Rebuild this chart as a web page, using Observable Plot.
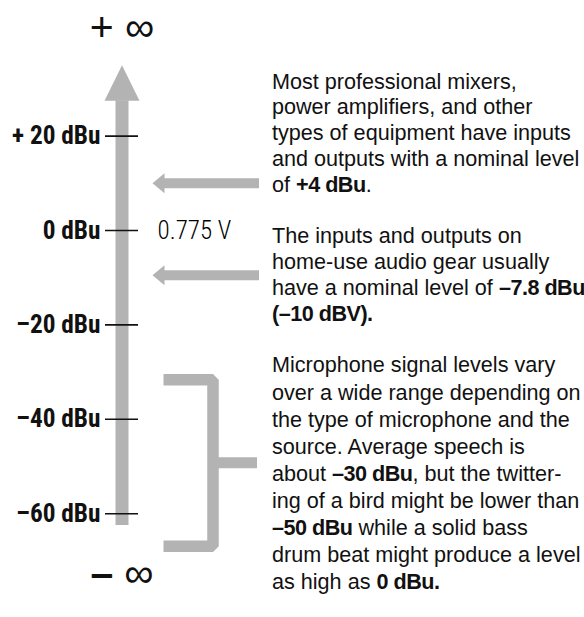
<!DOCTYPE html>
<html><head><meta charset="utf-8">
<script src="https://cdn.jsdelivr.net/npm/d3@7"></script>
<script src="https://cdn.jsdelivr.net/npm/@observablehq/plot@0.6"></script>
<style>
html,body{margin:0;padding:0;background:#fff;}
</style></head><body><div id="chart"></div>
<script>
// ---- data (dBu levels as drawn on the schematic scale) ----
const tickValues = [20, 0, -20, -40, -60];
const tickLabels = ["+ 20 dBu", "0 dBu", "–20 dBu", "–40 dBu", "–60 dBu"];
const referenceLevel = 0;
const referenceLabel = "0.775 V";
const axisExtent = [-62.5, 35];          // shaft bottom, arrow tip
const axisHeadBase = 27.5;
const arrowLevels = [10, -9.5];          // pro gear / home gear pointers
const micBracket = [-31.6, -66.9];       // microphone range bracket
const micBracketMid = -49.2;
const infinityLevels = [43, -72.7];
const infinityLabels = ["+ ∞", "**–** ∞"];
const noteLevels = [20.9, -9.1, -51.2];
const notes = [
  "Most professional mixers,\npower amplifiers, and other\ntypes of equipment have inputs\nand outputs with a nominal level\nof **+4 dBu**.",
  "The inputs and outputs on\nhome-use audio gear usually\nhave a nominal level of **–7.8 dBu**\n**(–10 dBV).**",
  "Microphone signal levels vary\nover a wide range depending on\nthe type of microphone and the\nsource. Average speech is\nabout **–30 dBu**, but the twitter-\ning of a bird might be lower than\n**–50 dBu** while a solid bass\ndrum beat might produce a level\nas high as **0 dBu.**"
];

// ---- layout ----
const W = 584, H = 617;
const pxPerDb = 4.72;
const gray = "#b3b3b3";
const ink = "#111";
const X = {shaft: 121.5, headL: 104, headR: 139, tickL: 105, tickR: 138, labelR: 100,
           ref: 157, arrowTip: 152, arrowBase: 164, arrowEnd: 259, notes: 271.5,
           brL: 163, brV: 212.5, brStub: 257};
const cond = '"Roboto Condensed", "DejaVu Sans Condensed", sans-serif';
const sans = '"Liberation Sans", Arial, Helvetica, sans-serif';

const headHalf = 10 / pxPerDb;
const arrowHeads = arrowLevels.flatMap(l => [
  {x: X.arrowTip, y: l, k: l}, {x: X.arrowBase, y: l + headHalf, k: l}, {x: X.arrowBase, y: l - headHalf, k: l}
]);
const mainHead = [
  {x: X.headL, y: axisHeadBase}, {x: X.headR, y: axisHeadBase}, {x: X.shaft, y: axisExtent[1]}
];
const bracket = [
  {x: X.brL, y: micBracket[0]}, {x: X.brV, y: micBracket[0]},
  {x: X.brV, y: micBracket[1]}, {x: X.brL, y: micBracket[1]}
];
const ticks = tickValues.map((v, i) => ({v, label: tickLabels[i]}));

const noteSize = 21.6;
const lineHeights = [25.75 / noteSize, 26 / noteSize, 27.1 / noteSize];

const chart = Plot.plot({
  width: W, height: H, margin: 0,
  x: {domain: [0, W], axis: null},
  y: {domain: [-(H - 230) / pxPerDb, 230 / pxPerDb], axis: null},
  style: {background: "#fff"},
  marks: [
    // main axis shaft + head
    Plot.ruleX([X.shaft], {x: d => d, y1: axisExtent[0], y2: axisHeadBase, stroke: gray, strokeWidth: 13}),
    Plot.line(mainHead, {x: "x", y: "y", fill: gray, stroke: "none"}),
    // ticks
    Plot.ruleY(ticks, {y: "v", x1: X.tickL, x2: X.tickR, stroke: ink, strokeWidth: 1.6}),
    Plot.text(ticks, {y: "v", x: X.labelR, text: "label", textAnchor: "end", fontFamily: cond,
      fontWeight: "bold", fontSize: 25.3, fill: ink}),
    Plot.text([referenceLabel], {y: referenceLevel, x: X.ref, text: d => d, textAnchor: "start",
      fontFamily: cond, fontWeight: 300, fontSize: 25, fill: "#000"}),
    // infinity labels
    Plot.text(infinityLabels, {y: (d, i) => infinityLevels[i], x: X.shaft, text: d => d,
      fontFamily: sans, fontSize: 41, fill: ink}),
    // pointer arrows
    Plot.ruleY(arrowLevels, {y: d => d, x1: X.arrowBase - 1, x2: X.arrowEnd, stroke: gray, strokeWidth: 10}),
    Plot.line(arrowHeads, {x: "x", y: "y", z: "k", fill: gray, stroke: "none"}),
    // microphone bracket
    Plot.line(bracket, {x: "x", y: "y", stroke: gray, strokeWidth: 11.5, strokeLinejoin: "miter", strokeLinecap: "butt"}),
    Plot.ruleY([micBracketMid], {y: d => d, x1: X.brV, x2: X.brStub, stroke: gray, strokeWidth: 11}),
    // notes
    ...notes.map((n, i) => Plot.text([n], {y: noteLevels[i], x: X.notes, text: d => d,
      textAnchor: "start", lineAnchor: "middle", lineHeight: lineHeights[i],
      fontFamily: sans, fontSize: noteSize, fill: ink}))
  ]
});

// apply **bold** markup as tspans
function applyBold(node) {
  const txt = node.textContent;
  if (!txt.includes("**")) return;
  const parts = txt.split("**");
  while (node.firstChild) node.removeChild(node.firstChild);
  parts.forEach((p, i) => {
    if (!p) return;
    if (i % 2) {
      const t = document.createElementNS("http://www.w3.org/2000/svg", "tspan");
      t.setAttribute("font-weight", "bold");
      t.setAttribute("letter-spacing", "-0.5");
      t.textContent = p;
      node.appendChild(t);
    } else node.appendChild(document.createTextNode(p));
  });
}
chart.querySelectorAll("text").forEach(t => {
  const spans = t.querySelectorAll("tspan");
  if (spans.length) spans.forEach(applyBold); else applyBold(t);
});

document.getElementById("chart").appendChild(chart);
</script></body></html>
